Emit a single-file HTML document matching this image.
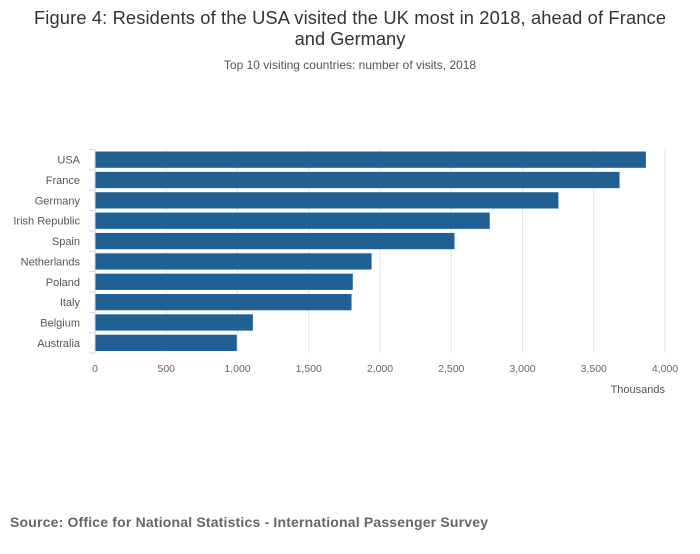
<!DOCTYPE html>
<html><head><meta charset="utf-8"><style>
body{margin:0;background:#fff;font-family:"Liberation Sans",sans-serif}
</style></head><body>
<svg width="700" height="549" xmlns="http://www.w3.org/2000/svg">
<text x="350" y="24" text-anchor="middle" font-size="18.3" fill="#333" textLength="632">Figure 4: Residents of the USA visited the UK most in 2018, ahead of France</text>
<text x="350" y="45" text-anchor="middle" font-size="18.3" fill="#333">and Germany</text>
<text x="350" y="69" text-anchor="middle" font-size="12" fill="#555">Top 10 visiting countries: number of visits, 2018</text>
<g id="plot"></g>
<text x="665" y="393" text-anchor="end" font-size="11" fill="#555">Thousands</text>
<text x="10" y="527" font-size="14" font-weight="bold" fill="#666" textLength="478">Source: Office for National Statistics - International Passenger Survey</text>
</svg>
<script>
const categories=["USA","France","Germany","Irish Republic","Spain","Netherlands","Poland","Italy","Belgium","Australia"];
const visits=[3866,3681,3252,2770,2523,1941,1809,1800,1108,995];
const xTicks=[0,500,1000,1500,2000,2500,3000,3500,4000];
const xTickLabels=["0","500","1,000","1,500","2,000","2,500","3,000","3,500","4,000"];
const NS="http://www.w3.org/2000/svg";
const g=document.getElementById('plot');
const x0=95,x1=665,y0=149.5,y1=353,xmax=4000;
const band=(y1-y0)/categories.length;
const sx=v=>x0+v/xmax*(x1-x0);
const sy=i=>y0+i*band;
function mk(t,a){const e=document.createElementNS(NS,t);for(const k in a)e.setAttribute(k,a[k]);g.appendChild(e);return e;}
xTicks.forEach((t,i)=>{
 if(i>0){const l=mk('line',{x1:sx(t),x2:sx(t),y1:y0,y2:y1,stroke:'#e6e6e6','stroke-width':1});
 
 }
 const tx=mk('text',{x:sx(t),y:372,'text-anchor':'middle','font-size':10.5,fill:'#666'});
 tx.textContent=xTickLabels[i];
 
 
});
categories.forEach((c,i)=>{
 const r=mk('rect',{x:x0,y:sy(i)+band*0.1,width:sx(visits[i])-x0,height:band*0.8,fill:'#206095'});
 
 
 const t=mk('text',{x:80,y:sy(i)+band/2+4,'text-anchor':'end','font-size':11,fill:'#555'});
 t.textContent=c;
 
 
});
for(let i=0;i<=categories.length;i++){
 const tk=mk('line',{x1:x0-6,x2:x0,y1:sy(i),y2:sy(i),stroke:'#ccd6eb'});
 
 
}
const ax=mk('line',{x1:x0,x2:x0,y1:y0,y2:y1,stroke:'#ccd6eb'});


</script>
</body></html>
